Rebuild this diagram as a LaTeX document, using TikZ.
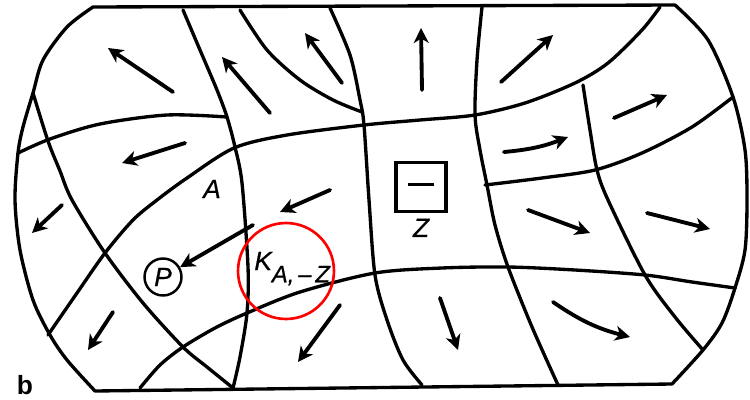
\documentclass[tikz,border=0pt]{standalone}
\usepackage{fontspec}
\setmainfont{Liberation Sans}
\newfontfamily\lblfont[FakeBold=0.6]{Liberation Sans}
\usetikzlibrary{arrows.meta}

\begin{document}
\begin{tikzpicture}[
    x=0.02cm, y=-0.02cm,
    edge/.style={line width=1.9pt, line join=round, line cap=round},
    flow/.style={-{Stealth[length=8.5pt,width=8.5pt,inset=2.5pt]}, line width=2.2pt, line cap=round},
    lbl/.style={font=\fontsize{15}{15}\lblfont\itshape, inner sep=0pt},
    ring/.style={circle, draw, line width=1.4pt, minimum size=0.74cm, inner sep=0pt}
]
\useasboundingbox (0,0) rectangle (750,399);

\draw[edge] plot[smooth] coordinates {(93,7) (67,27) (43,60) (33,93) (23,127) (18,153) (15,200) (20,250) (33,300) (50,335) (67,360) (95,391)}
    -- (672,384)
    -- plot[smooth] coordinates {(672,384) (703,350) (722,323) (735,288) (745,250) (747,200) (745,150) (733,97) (708,40) (675,5)}
    -- cycle;

\draw[edge] plot[smooth] coordinates {(18,153) (50,139) (100,124) (167,115) (227,117)};
\draw[edge] plot[smooth] coordinates {(48,335) (77,293) (105,253) (133,220) (157,200) (187,178) (234,148) (287,135) (364,125) (420,120) (475,115) (525,103) (575,83) (608,63) (642,30) (660,7)};
\draw[edge] plot[smooth] coordinates {(485,185) (542,178) (595,170) (642,153) (692,127) (733,97)};
\draw[edge] plot[smooth] coordinates {(140,388) (160,365) (183,347) (215,328) (247,313) (300,292) (375,273) (442,268) (508,267) (575,270) (645,275) (692,282) (735,288)};

\draw[edge] plot[smooth] coordinates {(33,93) (48,141) (60,171) (72,200) (105,253) (143,303) (183,347) (207,367) (233,388)};
\draw[edge] plot[smooth] coordinates {(183,10) (200,50) (217,90) (227,117) (235,147) (242,183) (248,267) (247,313) (240,357) (233,388)};
\draw[edge] plot[smooth] coordinates {(240,10) (267,50) (300,80) (333,100) (362,112)};
\draw[edge] plot[smooth] coordinates {(330,8) (350,55) (360,100) (364,125) (369,200) (375,275) (387,320) (403,360) (422,385)};
\draw[edge] plot[smooth] coordinates {(482,7) (477,60) (475,115) (480,150) (487,185) (495,225) (508,267) (532,327) (558,385)};
\draw[edge] plot[smooth] coordinates {(583,85) (590,130) (597,170) (608,200) (645,275) (675,317) (703,350)};

\node[lbl] (a) at (212,189) {A};
\node[ring, font=\fontsize{15}{15}\lblfont\itshape] (p) at (163,277) {P};
\node[draw, line width=1.9pt, minimum width=1cm, minimum height=0.98cm, inner sep=0pt] (zbox) at (421,187) {\rule[0.6ex]{0.52cm}{1.8pt}};
\node[lbl, below=3pt] (z) at (zbox.south) {Z};
\node[lbl, anchor=base west] (k) at (254,270) {K\raisebox{-7pt}{\fontsize{13.5}{13}\lblfont\itshape A,\,–\,Z}};
\node[circle, draw=red, line width=1.5pt, minimum size=1.92cm] (hl) at (286,271) {};
\node[font=\fontsize{15}{15}\bfseries, inner sep=0pt] (b) at (25,385) {b};

\draw[flow] (173,92) -- (108,48);
\draw[flow] (270,113) -- (222,57);
\draw[flow] (342,83) -- (305,33);
\draw[flow] (185,143) -- (122,163);
\draw[flow] (422,90) -- (421,28);
\draw[flow] (501,82) -- (553,35);
\draw[flow] (614,118) -- (667,95);
\draw[flow] (504,152) to[bend right=8] (568,137);
\draw[flow] (528,210) -- (590,233);
\draw[flow] (647,213) -- (710,229);
\draw[flow] (440,298) -- (458,350);
\draw[flow] (553,302) to[bend right=10] (630,337);
\draw[flow] (62,205) -- (32,233);
\draw[flow] (253,225) -- (p.30);
\draw[flow] (113,312) -- (88,350);
\draw[flow] (340,305) -- (298,362);
\draw[flow] (330,190) -- (280,212);
\end{tikzpicture}
\end{document}
